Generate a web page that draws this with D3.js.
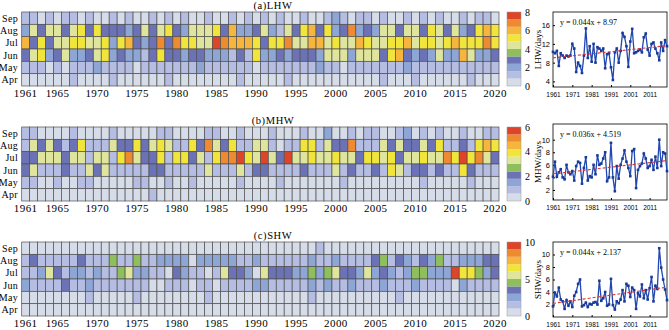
<!DOCTYPE html>
<html>
<head>
<meta charset="utf-8">
<script src="https://cdn.jsdelivr.net/npm/d3@7"></script>
<style>
  body { margin: 0; background: #fff; }
  svg { font-family: "Liberation Serif", "Times New Roman", serif; }
</style>
</head>
<body>
<svg id="chart" width="669" height="330"></svg>
<script>
const years = d3.range(1961, 2021);
const months = ['Sep', 'Aug', 'Jul', 'Jun', 'May', 'Apr'];
const yearTicks = [1961, 1965, 1970, 1975, 1980, 1985, 1990, 1995, 2000, 2005, 2010, 2015, 2020];
const lineTicks = [1961, 1971, 1981, 1991, 2001, 2011];

// colour bands of the colour bar, low -> high
const BANDS = ['#d6dde9', '#b5bee2', '#8ea6d5', '#6b73b6', '#8fbe5c',
               '#dfe59c', '#f1e53c', '#f6b63e', '#ee8a2f', '#dd4428'];

// heat map cells: colour-band index, one digit per year 1961-2020
const lhwSep = '1101011010 0101001010 1001001010 1010010012 1011010010 1010010110';
const lhwAug = '2535535636 3332353563 2555637223 5215367362 3823255355 3653523676';
const lhwJul = '7363556655 6267323838 6655987776 3668557756 5576556675 6656766686';
const lhwJun = '3562352235 6232213633 2332221316 2232333255 5255536732 3252275223';
const lhwMay = '1110101112 1111011111 1121111110 1111111211 0111111121 1111111111';
const lhwApr = '0000001000 0100000010 0000000100 0001000000 0000010001 0000001000';

const mhwSep = '1100001000 0100000110 0001100100 0100010020 0101100120 1010010011';
const mhwAug = '1535313611 1533635651 1638536115 5101166153 3811153533 5361131676';
const mhwJul = '3355535515 5168533616 6351688965 9539556556 5536656355 6558696853';
const mhwJun = '3511131153 5111113311 1115111513 3111131115 1311316513 3131163111';
const mhwMay = '1100100110 0000110010 0100000100 0010000000 1000000000 1000001000';
const mhwApr = '0000000000 0000001000 0000000000 0000000000 0000000000 0000000000';

const shwSep = '0000000000 0000000000 0000000000 0000000100 0000000000 0000000000';
const shwAug = '1311111311 1411411222 2022222112 1111112112 1111341321 3241122233';
const shwJul = '1125312212 1145221103 2110153320 5333224245 3325232124 4222966423';
const shwJun = '2111131121 1111110011 1011011112 2111112121 1211121112 1111021111';
const shwMay = '0000000010 0000100000 0001000000 0000001000 0000000100 0000000000';
const shwApr = '0000000000 0000000000 0000000000 0000000000 0000000000 0000000000';

// yearly heatwave days (right-hand line charts)
const lhwDays = [10.3, 10.0, 10.5, 7.3, 10.0, 9.5, 9.0, 9.5, 9.3, 9.5,
                 12.0, 11.0, 6.0, 8.0, 7.3, 5.8, 9.5, 15.3, 9.0, 11.5,
                 8.2, 12.0, 8.0, 11.3, 11.0, 10.5, 11.0, 6.8, 9.8, 10.0,
                 7.0, 4.3, 10.2, 11.0, 8.0, 10.5, 14.3, 13.5, 11.5, 7.1,
                 12.5, 15.2, 10.0, 10.2, 10.5, 10.8, 10.2, 13.4, 14.2, 10.8,
                 9.5, 12.0, 12.3, 11.0, 10.0, 8.5, 12.3, 10.5, 12.8, 11.5];
const mhwDays = [4.1, 6.5, 4.1, 4.8, 5.3, 4.0, 3.7, 6.0, 4.8, 4.5,
                 5.0, 3.5, 5.8, 6.5, 6.3, 3.0, 5.5, 7.2, 3.5, 4.2,
                 4.0, 6.0, 4.5, 7.5, 6.0, 6.2, 7.0, 8.0, 3.4, 4.0,
                 9.5, 4.0, 1.8, 5.8, 3.8, 6.0, 7.0, 8.3, 6.5, 5.5,
                 4.2, 8.2, 8.5, 2.3, 5.2, 5.8, 6.2, 7.8, 7.0, 5.5,
                 5.8, 6.8, 5.2, 7.3, 5.5, 10.0, 5.8, 8.0, 7.8, 5.0];
const shwDays = [1.7, 3.9, 3.3, 4.7, 2.8, 2.5, 1.3, 2.7, 1.8, 2.5,
                 1.6, 3.4, 4.0, 5.3, 6.0, 1.7, 1.9, 2.3, 1.6, 2.1,
                 2.0, 2.3, 2.4, 2.0, 5.8, 2.6, 3.0, 4.0, 1.8, 2.0,
                 6.1, 1.9, 1.2, 2.5, 2.2, 2.8, 4.3, 2.5, 5.3, 5.0,
                 3.2, 4.7, 4.3, 1.3, 3.8, 3.3, 5.2, 3.0, 4.3, 2.8,
                 4.6, 6.4, 2.5, 5.0, 4.5, 11.0, 7.9, 6.0, 4.4, 2.7];

const parseRow = s => s.replace(/ /g, '').split('').map(Number);

const panels = [
  { title: '(a)LHW', max: 8, cbTicks: [0, 2, 4, 6, 8],
    rows: [lhwSep, lhwAug, lhwJul, lhwJun, lhwMay, lhwApr],
    series: lhwDays, slope: 0.044, icpt: 8.97, eq: 'y = 0.044x + 8.97', ylabel: 'LHW/days',
    yDomain: [2.8, 18.8], yTicks: [4, 8, 12, 16], top: 12, boxTop: 12, boxBottom: 87 },
  { title: '(b)MHW', max: 6, cbTicks: [0, 2, 4, 6],
    rows: [mhwSep, mhwAug, mhwJul, mhwJun, mhwMay, mhwApr],
    series: mhwDays, slope: 0.036, icpt: 4.519, eq: 'y = 0.036x + 4.519', ylabel: 'MHW/days',
    yDomain: [0.4, 12.5], yTicks: [2, 4, 6, 8, 10], top: 127, boxTop: 124, boxBottom: 200 },
  { title: '(c)SHW', max: 10, cbTicks: [0, 5, 10],
    rows: [shwSep, shwAug, shwJul, shwJun, shwMay, shwApr],
    series: shwDays, slope: 0.044, icpt: 2.137, eq: 'y = 0.044x + 2.137', ylabel: 'SHW/days',
    yDomain: [0, 12], yTicks: [2, 4, 6, 8, 10], top: 242, boxTop: 242, boxBottom: 317 }
];

const svg = d3.select('#chart');
const mapH = 74;

const x = d3.scaleBand()
  .domain(years)
  .range([21.7, 499]);

panels.forEach(p => {
  let y = d3.scaleBand()
    .domain(months)
    .range([p.top, p.top + mapH]);

  let color = d3.scaleQuantize()
    .domain([0, p.max])
    .range(BANDS);

  // cell value in days = centre of its colour band
  let cells = [];
  p.rows.forEach((row, r) => {
    parseRow(row).forEach((c, i) => {
      cells.push({ month: months[r], year: years[i], value: (c + 0.5) * p.max / 10 });
    });
  });

  let g = svg.append('g');

  g.selectAll('rect.cell')
    .data(cells)
    .enter()
    .append('rect')
    .attr('class', 'cell')
    .attr('x', d => x(d.year))
    .attr('y', d => y(d.month))
    .attr('width', x.bandwidth())
    .attr('height', y.bandwidth())
    .attr('fill', d => color(d.value))
    .attr('stroke', '#505050')
    .attr('stroke-width', 0.7);

  g.append('text')
    .attr('x', 273)
    .attr('y', p.top - 3)
    .attr('text-anchor', 'middle')
    .style('font-size', '10.5px')
    .style('letter-spacing', '0.6px')
    .text(p.title);

  g.selectAll('text.month')
    .data(months)
    .enter()
    .append('text')
    .attr('class', 'month')
    .attr('x', 18)
    .attr('y', d => y(d) + y.bandwidth() / 2)
    .attr('dy', '0.35em')
    .attr('text-anchor', 'end')
    .style('font-size', '10px')
    .style('letter-spacing', '0.3px')
    .text(d => d);

  g.selectAll('text.year')
    .data(yearTicks)
    .enter()
    .append('text')
    .attr('class', 'year')
    .attr('x', d => x(d) + x.bandwidth() / 2)
    .attr('y', p.top + mapH + 10.5)
    .attr('text-anchor', 'middle')
    .style('font-size', '11px')
    .style('letter-spacing', '0.4px')
    .text(d => d);

  // colour bar
  let cb = d3.scaleLinear()
    .domain([0, p.max])
    .range([p.top + mapH, p.top]);
  let step = p.max / BANDS.length;

  g.selectAll('rect.band')
    .data(BANDS)
    .enter()
    .append('rect')
    .attr('class', 'band')
    .attr('x', 507)
    .attr('width', 14)
    .attr('y', (d, i) => cb((i + 1) * step))
    .attr('height', (d, i) => cb(i * step) - cb((i + 1) * step))
    .attr('fill', d => d);

  g.append('rect')
    .attr('x', 507)
    .attr('y', p.top)
    .attr('width', 14)
    .attr('height', mapH)
    .attr('fill', 'none')
    .attr('stroke', '#999')
    .attr('stroke-width', 0.5);

  g.selectAll('text.cbtick')
    .data(p.cbTicks)
    .enter()
    .append('text')
    .attr('class', 'cbtick')
    .attr('x', 525)
    .attr('y', d => cb(d))
    .attr('dy', '0.35em')
    .style('font-size', '10px')
    .text(d => d);

  // line chart
  let lx = d3.scaleLinear()
    .domain([1961, 2020])
    .range([553, 667]);
  let ly = d3.scaleLinear()
    .domain(p.yDomain)
    .range([p.boxBottom, p.boxTop]);

  let lg = svg.append('g');

  let xAxis = d3.axisBottom(lx)
    .tickValues(lineTicks)
    .tickFormat(d3.format('d'))
    .tickSizeInner(-2)
    .tickSizeOuter(0)
    .tickPadding(5);
  let yAxis = d3.axisLeft(ly)
    .tickValues(p.yTicks)
    .tickSizeInner(-2)
    .tickSizeOuter(0)
    .tickPadding(3);

  lg.append('g')
    .attr('transform', `translate(0,${p.boxBottom})`)
    .call(xAxis)
    .call(a => a.select('.domain').remove())
    .call(a => a.selectAll('text').style('font-size', '6.5px').style('font-family', 'inherit'));

  lg.append('g')
    .attr('transform', 'translate(553,0)')
    .call(yAxis)
    .call(a => a.select('.domain').remove())
    .call(a => a.selectAll('text').style('font-size', '7.5px').style('font-family', 'inherit'));

  lg.append('rect')
    .attr('x', 553)
    .attr('y', p.boxTop)
    .attr('width', 114)
    .attr('height', p.boxBottom - p.boxTop)
    .attr('fill', 'none')
    .attr('stroke', '#000')
    .attr('stroke-width', 0.8);

  let pts = p.series.map((v, i) => ({ year: years[i], v: v }));

  lg.append('path')
    .datum(pts)
    .attr('d', d3.line().x(d => lx(d.year)).y(d => ly(d.v)))
    .attr('fill', 'none')
    .attr('stroke', '#2048b0')
    .attr('stroke-width', 1.3);

  lg.selectAll('rect.pt')
    .data(pts)
    .enter()
    .append('rect')
    .attr('class', 'pt')
    .attr('x', d => lx(d.year) - 1.3)
    .attr('y', d => ly(d.v) - 1.3)
    .attr('width', 2.6)
    .attr('height', 2.6)
    .attr('fill', '#1a3a9a');

  let trend = [1961, 2020].map(yr => ({ year: yr, v: p.slope * (yr - 1960) + p.icpt }));

  lg.append('path')
    .datum(trend)
    .attr('d', d3.line().x(d => lx(d.year)).y(d => ly(d.v)))
    .attr('fill', 'none')
    .attr('stroke', '#e3302a')
    .attr('stroke-width', 1.1)
    .attr('stroke-dasharray', '3,2');

  lg.append('text')
    .attr('x', 560)
    .attr('y', p.boxTop + 13)
    .style('font-size', '8px')
    .text(p.eq);

  lg.append('text')
    .attr('transform', `translate(541,${(p.boxTop + p.boxBottom) / 2}) rotate(-90)`)
    .attr('text-anchor', 'middle')
    .style('font-size', '9px')
    .text(p.ylabel);
});
</script>
</body>
</html>
